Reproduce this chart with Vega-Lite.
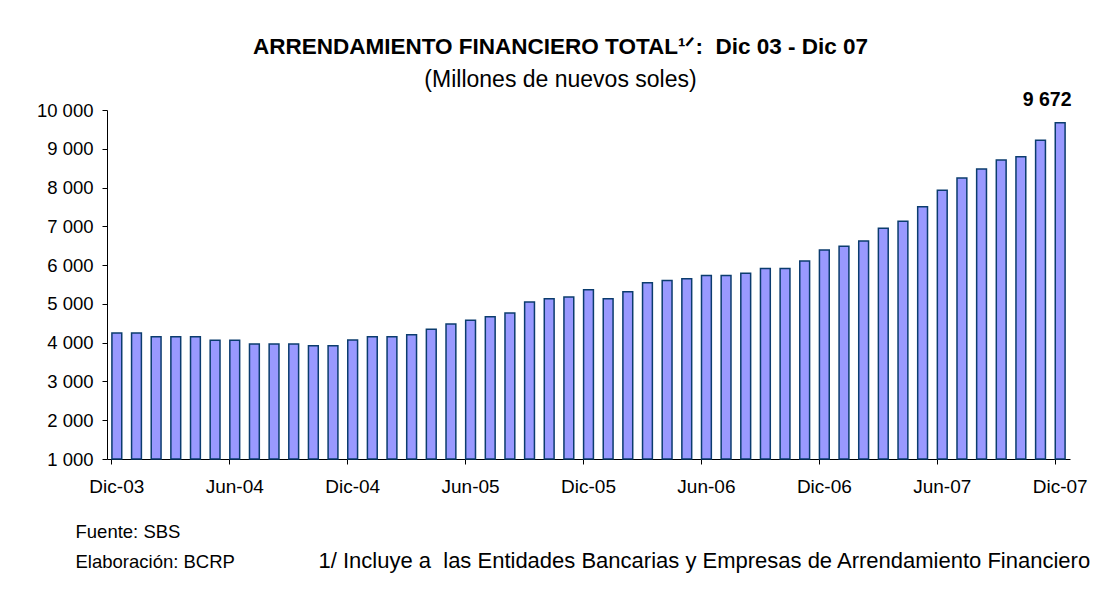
{
  "$schema": "https://vega.github.io/schema/vega-lite/v6.json",
  "autosize": "none",
  "width": 963,
  "height": 349,
  "padding": {"left": 107, "top": 110, "right": 26, "bottom": 130},
  "background": "white",
  "config": {
    "font": "Liberation Sans",
    "view": {"stroke": null},
    "locale": {"number": {"decimal": ",", "thousands": " ", "grouping": [3], "currency": ["S/", ""]}}
  },
  "title": {
    "text": "ARRENDAMIENTO FINANCIERO TOTAL¹ᐟ:\u00a0 Dic 03 - Dic 07",
    "subtitle": "(Millones de nuevos soles)",
    "anchor": "middle",
    "dx": -28,
    "offset": -2,
    "font": "Liberation Sans",
    "fontSize": 22.5,
    "fontWeight": "bold",
    "color": "black",
    "subtitleFont": "Liberation Sans",
    "subtitleFontSize": 23,
    "subtitleColor": "black",
    "subtitlePadding": 10
  },
  "data": {
    "values": [
      {"mes": "Dic-03", "monto": 4250},
      {"mes": "Ene-04", "monto": 4250},
      {"mes": "Feb-04", "monto": 4155},
      {"mes": "Mar-04", "monto": 4155},
      {"mes": "Abr-04", "monto": 4155},
      {"mes": "May-04", "monto": 4060},
      {"mes": "Jun-04", "monto": 4060},
      {"mes": "Jul-04", "monto": 3965},
      {"mes": "Ago-04", "monto": 3965},
      {"mes": "Set-04", "monto": 3965},
      {"mes": "Oct-04", "monto": 3920},
      {"mes": "Nov-04", "monto": 3920},
      {"mes": "Dic-04", "monto": 4070},
      {"mes": "Ene-05", "monto": 4155},
      {"mes": "Feb-05", "monto": 4155},
      {"mes": "Mar-05", "monto": 4205},
      {"mes": "Abr-05", "monto": 4345},
      {"mes": "May-05", "monto": 4480},
      {"mes": "Jun-05", "monto": 4575},
      {"mes": "Jul-05", "monto": 4670},
      {"mes": "Ago-05", "monto": 4765},
      {"mes": "Set-05", "monto": 5050},
      {"mes": "Oct-05", "monto": 5135},
      {"mes": "Nov-05", "monto": 5180},
      {"mes": "Dic-05", "monto": 5365},
      {"mes": "Ene-06", "monto": 5135},
      {"mes": "Feb-06", "monto": 5315},
      {"mes": "Mar-06", "monto": 5545},
      {"mes": "Abr-06", "monto": 5600},
      {"mes": "May-06", "monto": 5650},
      {"mes": "Jun-06", "monto": 5735},
      {"mes": "Jul-06", "monto": 5735},
      {"mes": "Ago-06", "monto": 5790},
      {"mes": "Set-06", "monto": 5915},
      {"mes": "Oct-06", "monto": 5915},
      {"mes": "Nov-06", "monto": 6105},
      {"mes": "Dic-06", "monto": 6390},
      {"mes": "Ene-07", "monto": 6485},
      {"mes": "Feb-07", "monto": 6620},
      {"mes": "Mar-07", "monto": 6950},
      {"mes": "Abr-07", "monto": 7130},
      {"mes": "May-07", "monto": 7505},
      {"mes": "Jun-07", "monto": 7930},
      {"mes": "Jul-07", "monto": 8245},
      {"mes": "Ago-07", "monto": 8480},
      {"mes": "Set-07", "monto": 8710},
      {"mes": "Oct-07", "monto": 8795},
      {"mes": "Nov-07", "monto": 9220},
      {"mes": "Dic-07", "monto": 9672}
    ]
  },
  "encoding": {
    "x": {
      "field": "mes",
      "type": "ordinal",
      "sort": null,
      "scale": {"paddingInner": 0.5},
      "axis": {
        "values": ["Dic-03", "Jun-04", "Dic-04", "Jun-05", "Dic-05", "Jun-06", "Dic-06", "Jun-07", "Dic-07"],
        "bandPosition": 0,
        "labelOffset": 0,
        "labelAlign": "center",
        "labelAngle": 0,
        "labelFontSize": 19,
        "labelColor": "black",
        "labelPadding": 13,
        "tickSize": 5,
        "tickColor": "black",
        "domainColor": "black",
        "title": ["Fuente: SBS", "Elaboración: BCRP"],
        "titleAlign": "left",
        "titleAnchor": "start",
        "titleBaseline": "alphabetic",
        "titleX": -32,
        "titleY": 78,
        "titleFontSize": 18.5,
        "titleFontWeight": "normal",
        "titleColor": "black",
        "titleLineHeight": 30
      }
    },
    "y": {
      "field": "monto",
      "type": "quantitative",
      "scale": {"domain": [1000, 10000], "zero": false},
      "axis": {
        "values": [1000, 2000, 3000, 4000, 5000, 6000, 7000, 8000, 9000, 10000],
        "format": ",.0f",
        "grid": false,
        "labelFontSize": 18.5,
        "labelColor": "black",
        "labelPadding": 9,
        "tickSize": 5,
        "tickColor": "black",
        "domainColor": "black",
        "title": "1/ Incluye a\u00a0 las Entidades Bancarias y Empresas de Arrendamiento Financiero",
        "titleAngle": 0,
        "titleAlign": "left",
        "titleBaseline": "alphabetic",
        "titleX": 211,
        "titleY": 457,
        "titleFontSize": 22,
        "titleFontWeight": "normal",
        "titleColor": "black"
      }
    }
  },
  "layer": [
    {
      "mark": {"type": "bar", "fill": "#9999FF", "stroke": "#0B3C6E", "strokeWidth": 1.5},
      "encoding": {"y2": {"datum": 1000}}
    },
    {
      "transform": [{"filter": "datum.mes == 'Dic-07'"}],
      "mark": {"type": "text", "fontWeight": "bold", "fontSize": 19.5, "dy": -17, "dx": -13, "baseline": "alphabetic", "color": "black"},
      "encoding": {"text": {"field": "monto", "type": "quantitative", "format": ",.0f"}}
    }
  ]
}
